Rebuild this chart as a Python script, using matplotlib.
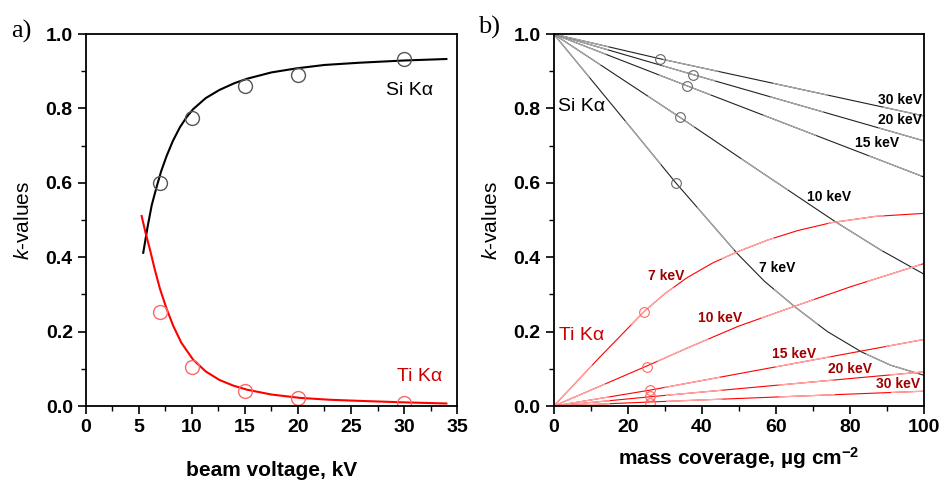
import matplotlib
matplotlib.use('Agg')
import matplotlib.pyplot as plt
from matplotlib.ticker import MultipleLocator

plt.rcParams['font.family'] = ['Liberation Sans', 'DejaVu Sans']
plt.rcParams['mathtext.fontset'] = 'custom'
plt.rcParams['mathtext.it'] = 'Liberation Sans:italic'
plt.rcParams['mathtext.rm'] = 'Liberation Sans'
plt.rcParams['mathtext.bf'] = 'Liberation Sans:bold'

# ---- panel a: k-values vs beam voltage ----
kv_pts = [7, 10, 15, 20, 30]
si_pts = [0.599, 0.775, 0.861, 0.890, 0.933]
ti_pts = [0.254, 0.106, 0.040, 0.021, 0.009]

si_fit_x = [5.4, 5.8, 6.2, 6.67, 7.1, 7.6, 8.2, 8.87, 9.5, 10.1, 11.3, 12.6,
            14.0, 15.2, 17.5, 19.9, 22.5, 25.8, 30.0, 34.0]
si_fit_y = [0.412, 0.48, 0.54, 0.59, 0.632, 0.672, 0.713, 0.75, 0.777, 0.798, 0.828, 0.85,
            0.868, 0.88, 0.897, 0.908, 0.917, 0.923, 0.929, 0.933]
ti_fit_x = [5.25, 5.6, 6.04, 6.5, 6.98, 7.6, 8.24, 9.0, 10.1, 11.3, 12.6, 13.9,
            15.2, 17.5, 20.2, 23.0, 25.8, 30.0, 34.0]
ti_fit_y = [0.511, 0.468, 0.42, 0.366, 0.315, 0.262, 0.215, 0.17, 0.125, 0.093, 0.07, 0.055,
            0.044, 0.031, 0.022, 0.017, 0.014, 0.010, 0.007]

# ---- panel b: k-values vs mass coverage ----
si_curves = {
    '7 keV': ([0, 11, 22, 33, 40, 49.6, 57, 65.4, 74, 83.3, 91, 100],
              [1.0, 0.867, 0.734, 0.60, 0.52, 0.41, 0.335, 0.265, 0.20, 0.145, 0.11, 0.083]),
    '10 keV': ([0, 34, 55, 76.2, 88.3, 100],
               [1.0, 0.777, 0.636, 0.495, 0.42, 0.355]),
    '15 keV': ([0, 36, 100], [1.0, 0.861, 0.616]),
    '20 keV': ([0, 38, 100], [1.0, 0.89, 0.713]),
    '30 keV': ([0, 29, 100], [1.0, 0.933, 0.78]),
}
ti_curves = {
    '7 keV': ([0, 12, 24.4, 30, 36, 43, 49.7, 58, 66, 75, 87, 100],
              [0.0, 0.127, 0.254, 0.302, 0.345, 0.385, 0.415, 0.447, 0.472, 0.493, 0.51, 0.518]),
    '10 keV': ([0, 25.2, 37, 50, 65, 80, 100],
               [0.0, 0.108, 0.16, 0.215, 0.268, 0.32, 0.383]),
    '15 keV': ([0, 26.1, 100], [0.0, 0.043, 0.179]),
    '20 keV': ([0, 26, 100], [0.0, 0.025, 0.092]),
    '30 keV': ([0, 26, 100], [0.0, 0.011, 0.040]),
}
si_meas_x = [33, 34, 36.1, 37.7, 28.8]
si_meas_y = [0.60, 0.777, 0.861, 0.89, 0.933]
ti_meas_x = [24.4, 25.2, 26.1, 26.1, 26.1]
ti_meas_y = [0.254, 0.106, 0.043, 0.026, 0.009]

# label positions (data coords) for panel b
si_lab = {'30 keV': (93.5, 0.822), '20 keV': (93.7, 0.769), '15 keV': (87.5, 0.706),
          '10 keV': (74.5, 0.563), '7 keV': (60.5, 0.372)}
ti_lab = {'7 keV': (30.5, 0.35), '10 keV': (45, 0.236), '15 keV': (65, 0.14),
          '20 keV': (80, 0.10), '30 keV': (93, 0.06)}

fig = plt.figure(figsize=(9.45, 4.8), dpi=100)
ax1 = fig.add_axes([0.091, 0.154, 0.3926, 0.775])
ax2 = fig.add_axes([0.586, 0.154, 0.3915, 0.775])

for ax in (ax1, ax2):
    for s in ax.spines.values():
        s.set_linewidth(1.3)
    ax.tick_params(which='major', direction='out', length=6, width=1.2,
                   top=False, right=False, labelsize=14)
    ax.tick_params(which='minor', direction='out', length=3.5, width=1.0,
                   top=False, right=False)
    ax.set_ylim(0, 1.0)
    ax.yaxis.set_major_locator(MultipleLocator(0.2))
    ax.yaxis.set_minor_locator(MultipleLocator(0.1))
    ax.set_ylabel('$k$-values', fontsize=15)
    ax.yaxis.set_label_coords(-0.143, 0.5)

# panel a
ax1.plot(si_fit_x, si_fit_y, color='black', lw=1.5)
ax1.plot(ti_fit_x, ti_fit_y, color='#ff0000', lw=1.5)
ax1.plot(kv_pts, si_pts, 'o', ms=10, mfc='none', mec='#555555', mew=1.0)
ax1.plot(kv_pts, ti_pts, 'o', ms=10, mfc='none', mec='#ff6666', mew=1.0)
ax1.set_xlim(0, 35)
ax1.xaxis.set_major_locator(MultipleLocator(5))
ax1.xaxis.set_minor_locator(MultipleLocator(2.5))
ax1.set_xlabel('beam voltage, kV', fontsize=15, fontweight='bold', labelpad=18)
ax1.text(30.5, 0.847, 'Si K\u03b1', fontsize=14, color='black', ha='center', va='center')
ax1.text(31.5, 0.08, 'Ti K\u03b1', fontsize=14, color='#cc0000', ha='center', va='center')

# panel b
for name, (x, y) in si_curves.items():
    ax2.plot(x, y, color='#222222', lw=0.8)
    ax2.plot(x, y, color='#aaaaaa', lw=0.9, dashes=(45, 45))
for name, (x, y) in ti_curves.items():
    ax2.plot(x, y, color='#ff0000', lw=0.8)
    ax2.plot(x, y, color='#ffaaaa', lw=0.9, dashes=(45, 45))
ax2.plot(si_meas_x, si_meas_y, 'o', ms=7, mfc='none', mec='#666666', mew=0.8)
ax2.plot(ti_meas_x, ti_meas_y, 'o', ms=7, mfc='none', mec='#ff6666', mew=0.8)
for name, (lx, ly) in si_lab.items():
    ax2.text(lx, ly, name, fontsize=10, fontweight='bold', color='black',
             ha='center', va='center')
for name, (lx, ly) in ti_lab.items():
    ax2.text(lx, ly, name, fontsize=10, fontweight='bold', color='#a00000',
             ha='center', va='center')
ax2.text(7.5, 0.805, 'Si K\u03b1', fontsize=14, color='black', ha='center', va='center')
ax2.text(7.5, 0.19, 'Ti K\u03b1', fontsize=14, color='#cc0000', ha='center', va='center')
ax2.set_xlim(0, 100)
ax2.xaxis.set_major_locator(MultipleLocator(20))
ax2.xaxis.set_minor_locator(MultipleLocator(10))
ax2.set_xlabel('mass coverage, \u00b5g cm$^{\\mathbf{-2}}$', fontsize=15, fontweight='bold', labelpad=6)

for ax in (ax1, ax2):
    for lab in ax.get_xticklabels() + ax.get_yticklabels():
        lab.set_fontweight('bold')

fig.text(0.023, 0.935, 'a)', fontsize=19, family='Liberation Serif', va='center', ha='center')
fig.text(0.518, 0.942, 'b)', fontsize=19, family='Liberation Serif', va='center', ha='center')

fig.savefig('out.png', dpi=100)
